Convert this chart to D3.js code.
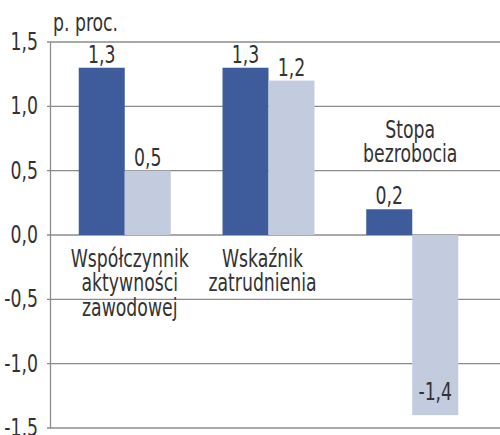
<!DOCTYPE html>
<html>
<head>
<meta charset="utf-8">
<script src="https://cdn.jsdelivr.net/npm/d3@7"></script>
<style>
  body { margin: 0; background: #fff; }
  svg text { font-family: "DejaVu Sans Condensed", "DejaVu Sans", sans-serif; fill: #333; font-size: 24px; }
</style>
</head>
<body>
<div id="chart"></div>
<script>
// categories and the two series
const categories = ['wsp', 'wsk', 'stopa'];
const categoryLabels = [
  ['Współczynnik', 'aktywności', 'zawodowej'],
  ['Wskaźnik', 'zatrudnienia'],
  ['Stopa', 'bezrobocia']
];
const seriesA = [1.3, 1.3, 0.2];
const seriesB = [0.5, 1.2, -1.4];
const yTicks = [1.5, 1.0, 0.5, 0.0, -0.5, -1.0, -1.5];
const unitLabel = 'p. proc.';

const width = 500, height = 435;
const margin = { top: 42, right: 0, bottom: 7, left: 50 };
const squeeze = 0.8; // narrow the font horizontally

const svg = d3.select('#chart').append('svg')
  .attr('width', width)
  .attr('height', height);

const y = d3.scaleLinear()
  .domain([-1.5, 1.5])
  .range([height - margin.bottom, margin.top]);

const x = d3.scaleBand()
  .domain(categories)
  .range([50, 487])
  .paddingInner(0.36)
  .paddingOuter(0.2);

const xs = d3.scaleBand()
  .domain(['a', 'b'])
  .range([0, x.bandwidth()]);

const fmt = v => d3.format('.1f')(v).replace('.', ',').replace('−', '-');

// text helper: lines stacked, condensed
function addText(parent, tx, ty, lines, anchor) {
  const t = parent.append('text')
    .attr('transform', `translate(${tx},${ty}) scale(${squeeze},1)`)
    .attr('text-anchor', anchor || 'middle');
  lines.forEach((line, j) => {
    t.append('tspan').attr('x', 0).attr('y', j * 24.5).text(line);
  });
  return t;
}

// gridlines
svg.append('g')
  .selectAll('line')
  .data(yTicks)
  .join('line')
  .attr('x1', margin.left - 3)
  .attr('x2', width)
  .attr('y1', d => y(d))
  .attr('y2', d => y(d))
  .attr('stroke', '#8c8c8c')
  .attr('stroke-width', 1.3);

// left axis line
const ga = svg.append('g')
  .attr('transform', `translate(${margin.left},0)`)
  .call(d3.axisLeft(y).tickValues(yTicks).tickSize(0).tickFormat(''));
ga.select('.domain').attr('stroke', '#8c8c8c').attr('stroke-width', 1.3);

// tick labels
yTicks.forEach(v => addText(svg, 38, y(v) + 8, [fmt(v)], 'end'));

// bars
const rows = categories.map((c, i) => ({ c, a: seriesA[i], b: seriesB[i] }));
const groups = svg.append('g').selectAll('g')
  .data(rows)
  .join('g')
  .attr('transform', d => `translate(${x(d.c)},0)`);

groups.selectAll('rect')
  .data(d => [{ k: 'a', v: d.a }, { k: 'b', v: d.b }])
  .join('rect')
  .attr('x', d => xs(d.k))
  .attr('width', xs.bandwidth())
  .attr('y', d => y(Math.max(0, d.v)))
  .attr('height', d => Math.abs(y(d.v) - y(0)))
  .attr('fill', d => d.k === 'a' ? '#3e5b9b' : '#c3cbdf');

// value labels + category labels
const labelPos = [
  { dx: 5, y0: 267 },
  { dx: -6, y0: 267 },
  { dx: -2, y0: 138 }
];
groups.each(function (d, i) {
  const g = d3.select(this);
  [{ k: 'a', v: d.a }, { k: 'b', v: d.b }].forEach(p => {
    const ty = p.v >= 0 ? y(p.v) - 5 : y(p.v) - 15;
    addText(g, xs(p.k) + xs.bandwidth() / 2, ty, [fmt(p.v)]);
  });
  addText(g, x.bandwidth() / 2 + labelPos[i].dx, labelPos[i].y0, categoryLabels[i]);
});

// unit label
addText(svg, margin.left + 3, 31, [unitLabel], 'start');
</script>
</body>
</html>
